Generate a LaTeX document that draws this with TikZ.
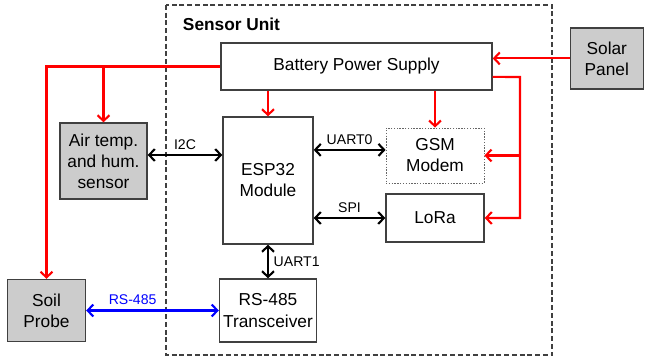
\documentclass[tikz,border=0pt]{standalone}
\usepackage{fontspec}
\setmainfont{Liberation Sans}
\usetikzlibrary{positioning,arrows.meta}

\begin{document}
\begin{tikzpicture}
 [>={Straight Barb[length=4pt, width=8.5pt]},
  box/.style={draw=black!75, line width=1pt, fill=white, align=center, inner sep=0pt, font=\fontsize{12.3}{15}\selectfont},
  ext box/.style={box, fill=black!20},
  power/.style={->, red, line width=1.5pt},
  link/.style={<->, line width=1.5pt},
  lbl/.style={font=\fontsize{10}{12}\selectfont}]

\useasboundingbox (0,0) rectangle (16.15,-8.95);
\draw[black!75, line width=0.8pt, dash pattern=on 3.5pt off 2pt] (4.15,-0.125) rectangle (13.8,-8.875);
\node[anchor=west, font=\fontsize{12.3}{15}\selectfont\bfseries] (title) at (4.45,-0.6) {Sensor Unit};

\node[box, minimum width=6.775cm, minimum height=1.175cm] (battery) at (8.9125,-1.6625) {Battery Power Supply};
\node[ext box, minimum width=1.825cm, minimum height=1.525cm] (solar) at (15.17,-1.46) {Solar\\Panel};
\node[box, minimum width=2.25cm, minimum height=3.175cm] (esp) at (6.7,-4.5125) {ESP32\\Module};
\node[ext box, minimum width=2.175cm, minimum height=1.9cm] (air) at (2.5875,-4.025) {Air temp.\\and hum.\\sensor};
\node[box, densely dotted, draw=black!60, line width=0.6pt, minimum width=2.45cm, minimum height=1.375cm] (gsm) at (10.875,-3.8875) {GSM\\Modem};
 \node[box, minimum width=2.45cm, minimum height=1.2cm] (lora) [node distance=1.5625cm, below of=gsm] {LoRa};
 \node[box, minimum width=2.425cm, minimum height=1.575cm] (rs485) [node distance=3.25cm, below of=esp] {RS-485\\Transceiver};
\node[ext box, minimum width=1.95cm, minimum height=1.55cm] (soil) [node distance=5.5375cm, left of=rs485] {Soil\\Probe};

  \coordinate (rail) at (13.0,-1.925);

% power lines
\draw[power] (solar.west) -- (solar.west -| battery.east);
\draw[power] ([yshift=-0.26cm]battery.east) -- (rail) |- (lora.east);
\draw[power] (rail |- gsm.east) -- (gsm.east);
\draw[power] (battery.west) -| (soil.north);
\draw[power] (air.north |- battery.west) -- (air.north);
\draw[power] (esp.north |- battery.south) -- (esp.north);
\draw[power] (gsm.north |- battery.south) -- (gsm.north);

% data links
\path
  ([yshift=0.15cm]air.east) edge [link] node [lbl, above] {I2C} ([yshift=0.15cm]air.east -| esp.west)
  ([yshift=0.14cm]gsm.west -| esp.east) edge [link] node [lbl, above] {UART0} ([yshift=0.14cm]gsm.west)
  (lora.west -| esp.east) edge [link] node [lbl, above] {SPI} (lora.west)
  (esp.south) edge [link] node [lbl, right] {UART1} (esp.south |- rs485.north)
  (soil.east) edge [link, blue] node [lbl, pos=0.35, above] {RS-485} (soil.east -| rs485.west);

\end{tikzpicture}
\end{document}
